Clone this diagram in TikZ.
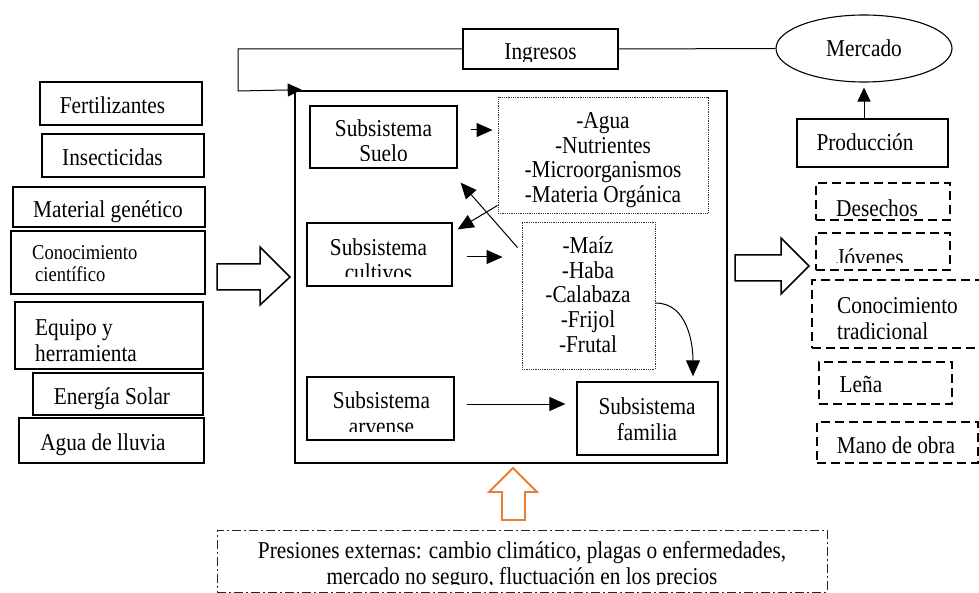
\documentclass[tikz,border=0pt]{standalone}
\usepackage{fontspec}
\setmainfont{Liberation Serif}[FakeStretch=0.88]
\usetikzlibrary{arrows.meta,fit,shapes.geometric}
\begin{document}
\begin{tikzpicture}[x=1pt,y=-1pt,
  font=\fontsize{24.2}{25.5}\selectfont,
  box/.style={draw, line width=1.3pt, inner sep=0pt},
  dbox/.style={draw, line width=1.3pt, inner sep=0pt, dash pattern=on 9pt off 5pt},
  dotbox/.style={draw=black!80, line width=0.9pt, inner sep=0pt, dash pattern=on 0.9pt off 0.9pt},
  ddbox/.style={draw=black!85, line width=1pt, inner sep=0pt, dash pattern=on 9pt off 3pt on 2pt off 3pt},
  lbl/.style={inner sep=0pt, align=center},
  lleft/.style={inner sep=0pt, align=left, anchor=west},
  arr/.style={line width=1pt, -{Triangle[length=16pt,width=14pt]}},
  arrB/.style={line width=1pt, -{Triangle[length=14pt,width=13pt]}},
  blk/.style={draw, line width=1.5pt, fill=white, line join=miter},
]
\useasboundingbox (0,0) rectangle (979,593);

% ---------- left inputs ----------
\node[box, fit={(40,82) (202,125)}] (fert) {};
\node[lbl, anchor=base] (tfert) at (112.5,114) {Fertilizantes};
\node[box, fit={(42,134) (204,177)}] (insect) {};
\node[lbl, anchor=base] (tinsect) at (112.5,166) {Insecticidas};
\node[box, fit={(13,187) (205,227)}] (matgen) {};
\begin{scope}
  \clip (matgen.north west) rectangle ([yshift=4pt]matgen.south east);
  \node[lbl, anchor=base] (tmatgen) at (108,218) {Material genético};
\end{scope}
\node[box, fit={(11,231) (205,294)}] (conoc) {};
\node[lleft, font=\fontsize{21.1}{22}\selectfont] (tconoc) at (32,264) {Conocimiento\\\hspace*{3pt}científico};
\node[box, fit={(15,302) (203,369)}] (equipo) {};
\node[lleft] (tequipo) at (35,340.5) {Equipo y\\herramienta};
\node[box, fit={(33,373) (203,415)}] (solar) {};
\node[lbl, anchor=base] (tsolar) at (112,404) {Energía Solar};
\node[box, fit={(19,418) (204,463)}] (lluvia) {};
\node[lbl, anchor=base] (tlluvia) at (103,450) {Agua de lluvia};

% left block arrow
\draw[blk] (217,264) -- (260,264) -- (260,247) -- (290,277) -- (260,305) -- (260,290) -- (217,290) -- cycle;

% ---------- main system ----------
\node[draw, line width=2.6pt, inner sep=0pt, fit={(295,91) (727,463)}] (main) {};

\node[box, fit={(310,106) (457,168)}] (suelo) {};
\begin{scope}
  \clip (suelo.north west) rectangle ([yshift=8pt]suelo.south east);
  \node[lbl] (tsuelo) at (383.5,140.5) {Subsistema\\Suelo};
\end{scope}

\node[dotbox, fit={(498,97) (708,213)}] (agua) {};
\node[lbl, font=\fontsize{24.2}{24.7}\selectfont] (tagua) at (603,160) {-Agua\\-Nutrientes\\-Microorganismos\\-Materia Orgánica};

\node[box, fit={(307,223) (452,286)}] (cultivos) {};
\begin{scope}
  \clip (cultivos.north west) rectangle ([yshift=10pt]cultivos.south east);
  \node[lbl] (tcultivos) at (378.5,259.5) {Subsistema\\cultivos};
\end{scope}

\node[dotbox, fit={(522,222) (655,369)}] (maiz) {};
\node[lbl, font=\fontsize{24.2}{24.75}\selectfont] (tmaiz) at (588,294.5) {-Maíz\\-Haba\\-Calabaza\\-Frijol\\-Frutal};

\node[box, fit={(307,377) (454,440)}] (arvense) {};
\begin{scope}
  \clip (arvense.north west) rectangle ([yshift=9pt]arvense.south east);
  \node[lbl] (tarvense) at (381.5,413) {Subsistema\\arvense};
\end{scope}

\node[box, fit={(577,382) (718,455)}] (familia) {};
\node[lbl] (tfamilia) at (647,419) {Subsistema\\familia};

% inner connectors
\draw[arr] ([xshift=13pt,yshift=7pt]suelo.east) -- ([xshift=-5pt,yshift=25pt]agua.west);
\draw[arr] ([xshift=14pt,yshift=-2.5pt]cultivos.east) -- ([xshift=-19pt,yshift=38.5pt]maiz.west);
\draw[arr] ([xshift=-4pt,yshift=-26pt]maiz.north west) -- ([xshift=3pt,yshift=-14pt]suelo.south east);
\draw[arr] ([yshift=8pt]agua.south west) -- ([xshift=5pt,yshift=-7pt]cultivos.north east);
\draw[arr] ([yshift=-7.5pt]maiz.east) to[out=0,in=90] ([xshift=45.5pt,yshift=5pt]familia.north);
\draw[arr] ([xshift=12pt,yshift=4.5pt]arvense.east) -- ([xshift=-11pt,yshift=14.5pt]familia.west);

% ---------- top ----------
\node[box, fit={(463,29) (618,69)}] (ingresos) {};
\begin{scope}
  \clip (ingresos.north west) rectangle ([yshift=8pt]ingresos.south east);
  \node[lbl, anchor=base] (tingresos) at (540.5,60) {Ingresos};
\end{scope}
\node[draw, line width=1.1pt, ellipse, minimum width=176pt, minimum height=67pt, inner sep=0pt] (mercado) at (864,48.5) {Mercado};
\node[box, fit={(797,119) (948,167)}] (prod) {};
\node[lbl, anchor=base] (tprod) at (865,151) {Producción};

\coordinate (ibend) at (238,91);
\draw[arrB] (ingresos.west) -| (ibend) -- ([xshift=8pt]main.north west);
\draw[line width=1pt] (ingresos.east) -- (mercado.west);
\draw[arrB] (prod.north -| mercado.south) -- ([yshift=-5pt]mercado.south);

% ---------- right outputs ----------
\draw[blk] (735,255) -- (781,255) -- (781,238) -- (809,266) -- (781,294) -- (781,281) -- (735,281) -- cycle;

\node[dbox, fit={(816,183) (950,220)}] (desechos) {};
\begin{scope}
  \clip (desechos.north west) rectangle ([yshift=2pt]desechos.south east);
  \node[lbl, anchor=base] (tdesechos) at (877,217) {Desechos};
\end{scope}
\node[dbox, fit={(816,233) (950,270)}] (jovenes) {};
\begin{scope}
  \clip (jovenes.north west) rectangle ([yshift=8pt]jovenes.south east);
  \node[lbl, anchor=base] (tjovenes) at (870,266) {Jóvenes};
\end{scope}
\node[dbox, fit={(812,280) (990,348)}] (tradic) {};
\node[lleft] (ttradic) at (837,318.5) {Conocimiento\\tradicional};
\node[dbox, fit={(819,362) (952,404)}] (lena) {};
\node[lbl, anchor=base] (tlena) at (861,392) {Leña};
\node[dbox, fit={(817,422) (978,463)}] (mano) {};
\node[lbl, anchor=base] (tmano) at (896,453) {Mano de obra};

% ---------- bottom ----------
\draw[draw={rgb,255:red,237;green,125;blue,49}, line width=1.8pt, fill=white, line join=miter]
  (513,468) -- (537,492) -- (525,492) -- (525,520) -- (502,520) -- (502,492) -- (489,492) -- cycle;
\node[ddbox, fit={(217,530) (827,592)}] (presion) {};
\begin{scope}
  \clip (presion.north west) rectangle ([yshift=8pt]presion.south east);
  \node[lbl, font=\fontsize{24.2}{26}\selectfont] (tpresion) at (522,566) {Presiones externas: cambio climático, plagas o enfermedades,\\mercado no seguro, fluctuación en los precios};
\end{scope}
\end{tikzpicture}
\end{document}
